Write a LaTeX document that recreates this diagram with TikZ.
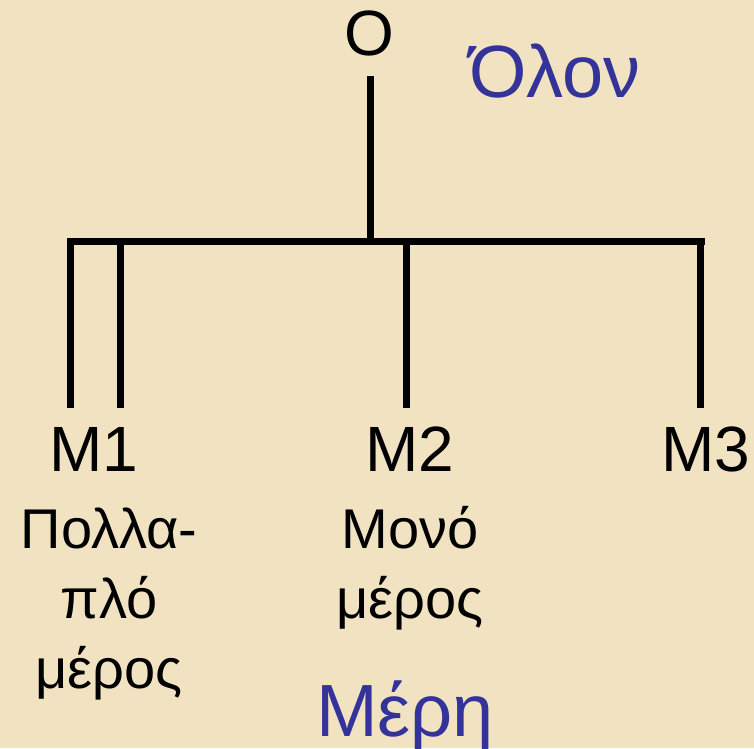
\documentclass[tikz,border=0pt]{standalone}
\usepackage{fontspec}
\setmainfont{Liberation Sans}
\definecolor{parchment}{RGB}{241,227,193}
\definecolor{titleblue}{RGB}{51,51,153}

\begin{document}
\begin{tikzpicture}[x=1pt,y=-1pt]

      \fill[parchment] (0,0) rectangle (754,748);
      \useasboundingbox (0,0) rectangle (754,748);

      \begin{scope}[every node/.style={anchor=base, inner sep=0pt, font=\fontsize{64}{77}\selectfont}]
        \node (O)  at (369,55)  {O};
        \node (M1) at (94,471)  {M1};
        \node (M2) at (410,471) {M2};
        \node (M3) at (706,471) {M3};
      \end{scope}

      % base = last line of the block
      \begin{scope}[every node/.style={anchor=base, inner sep=0pt, align=center, font=\fontsize{56}{70}\selectfont}]
        \node (multi)  at (109,688) {Πολλα-\\πλό\\μέρος};
        \node (single) at (410,618) {Μονό\\μέρος};
      \end{scope}

      \begin{scope}[every node/.style={anchor=base, inner sep=0pt, text=titleblue, font=\fontsize{74}{90}\selectfont}]
        \node (whole) at (555,97)  {Όλον};
        \node (parts) at (405,736) {Μέρη};
      \end{scope}

      \coordinate (root) at (370,76);
      \coordinate (hub)  at (370,241);
      \coordinate (barL) at (67,241);
      \coordinate (barR) at (705,241);
      \coordinate (t1) at (70,241);   \coordinate (b1) at (70,408);
      \coordinate (t2) at (120,241);  \coordinate (b2) at (120,408);
      \coordinate (t3) at (406,241);  \coordinate (b3) at (406,408);
      \coordinate (t4) at (700,241);  \coordinate (b4) at (700,408);

      \begin{scope}[line width=7pt]
        \path (root) edge (hub);
        \path (barL) edge (barR);
        \path (t1) edge (b1);
        \path (t2) edge (b2);
        \path (t3) edge (b3);
        \path (t4) edge (b4);
      \end{scope}

    \end{tikzpicture}
\end{document}
